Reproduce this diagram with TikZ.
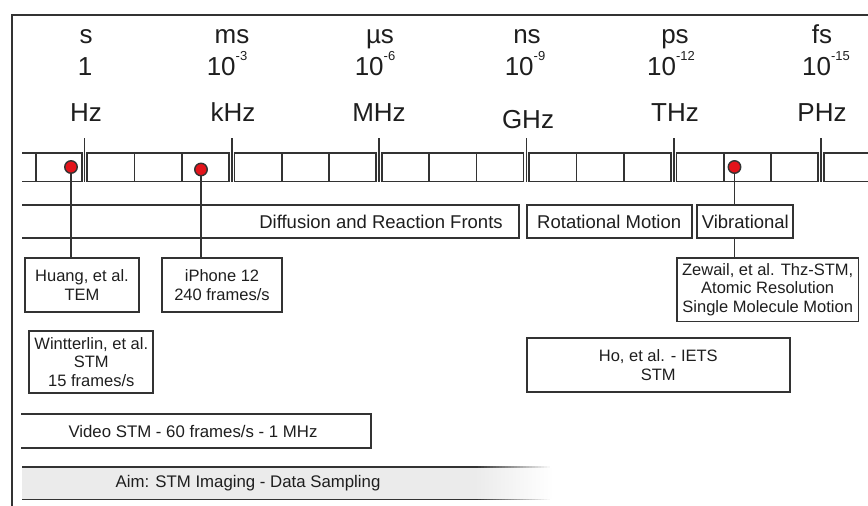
\documentclass[tikz,border=0pt]{standalone}
\usepackage{fontspec}
\setmainfont{Liberation Sans}
\usetikzlibrary{calc}
\definecolor{ln}{HTML}{333333}
\definecolor{tx}{HTML}{1E1E1E}
\definecolor{dotred}{HTML}{E3141B}
\definecolor{aimfill}{HTML}{EBEBEB}
\newcommand\pwr[1]{10\raisebox{15pt}{\fontsize{13}{13}\selectfont #1}}
\begin{document}
\begin{tikzpicture}[x=1pt,y=-1pt,
  frameline/.style={draw=ln, line width=1.9pt},
  rul/.style={draw=ln, line width=1.7pt},
  tickline/.style={draw=ln, line width=1.6pt},
  box/.style={draw=ln, line width=1.7pt, text=tx, inner sep=0pt, align=center, font=\fontsize{16.5}{18.4}\selectfont},
  bandtext/.style={text=tx, inner sep=0pt, font=\fontsize{18.5}{20}\selectfont},
  rowtext/.style={text=tx, inner sep=0pt, font=\fontsize{16.8}{18}\selectfont},
  unit/.style={text=tx, anchor=base, inner sep=0pt, font=\fontsize{26}{27}\selectfont},
  reddot/.style={circle, fill=dotred, draw=ln, line width=1.4pt, minimum size=12.5pt, inner sep=0pt},
  conn/.style={draw=ln, line width=1.6pt},
]
\useasboundingbox (0,0) rectangle (868,506);
% frame
\draw[frameline] (12,506) -- (12,15) -- (868,15);
% top labels
\node[unit] (us) at (86,43.5) {s};
\node[unit] (ums) at (232,43.5) {ms};
\node[unit] (uus) at (380,43.5) {µs};
\node[unit] (uns) at (527,43.5) {ns};
\node[unit] (ups) at (675,43.5) {ps};
\node[unit] (ufs) at (822,43.5) {fs};
\node[unit] (n0) at (85,75) {1};
\node[unit] (n3) at (227,75) {\pwr{-3}};
\node[unit] (n6) at (375,75) {\pwr{-6}};
\node[unit] (n9) at (525,75) {\pwr{-9}};
\node[unit] (n12) at (671,75) {\pwr{-12}};
\node[unit] (n15) at (826,75) {\pwr{-15}};
\node[unit] (fhz) at (86,121) {Hz};
\node[unit] (fkhz) at (233,121) {kHz};
\node[unit] (fmhz) at (379,121) {MHz};
\node[unit] (fghz) at (528,128) {GHz};
\node[unit] (fthz) at (675,121) {THz};
\node[unit] (fphz) at (822,121) {PHz};
% ruler
\foreach \t in {84.5,231.8,379.1,526.4,673.7,821} {
  \draw[tickline] (\t,138) -- (\t,182);
}
\draw[rul] (22,153) -- (81.7,153) -- (81.7,181.5) -- (22,181.5);
\draw[rul] (35.7,153) -- (35.7,181.5);
\foreach \a/\b in {87.3/229, 234.6/376.3, 381.9/523.6, 529.2/670.9, 676.5/818.2} {
  \draw[rul] (\a,153) rectangle (\b,181.5);
  \draw[rul] ({\a+(\b-\a)/3},153) -- ({\a+(\b-\a)/3},181.5);
  \draw[rul] ({\a+2*(\b-\a)/3},153) -- ({\a+2*(\b-\a)/3},181.5);
}
\draw[rul] (868,153) -- (823.8,153) -- (823.8,181.5) -- (868,181.5);
% bands
\draw[rul] (22,205) -- (519,205) -- (519,238) -- (22,238);
\node[bandtext] (diff) at (381,221.5) {Diffusion and Reaction Fronts};
\node[box, font=\fontsize{18.5}{20}\selectfont, minimum width=165pt, minimum height=33pt] (rot) at (609.2,221.5) {Rotational Motion};
\node[box, font=\fontsize{18.5}{20}\selectfont, minimum width=96pt, minimum height=33pt] (vib) at (745.3,221.5) {Vibrational};
% boxes
\node[box, minimum width=114pt, minimum height=54pt] (huang) at (82,285) {Huang, et al.\\TEM};
\node[box, minimum width=120pt, minimum height=54pt] (iphone) at (222,285) {iPhone 12\\240 frames/s};
\node[box, minimum width=124pt, minimum height=62pt] (wint) at (91.3,361.7) {Wintterlin, et al.\\STM\\15 frames/s};
\node[box, minimum width=181.5pt, minimum height=63.5pt] (zew) at (767.7,289.7) {Zewail, et al. Thz-STM,\\Atomic Resolution\\Single Molecule Motion};
\node[box, minimum width=263.3pt, minimum height=53.4pt] (ho) at (658.3,365) {Ho, et al. - IETS\\STM};
% video STM
\draw[rul] (21,414) -- (371,414) -- (371,448) -- (21,448);
\node[rowtext] (video) at (193,431.5) {Video STM - 60 frames/s - 1 MHz};
% aim bar
\fill[aimfill] (22,467) rectangle (475.5,499.5);
\shade[left color=aimfill, right color=white] (475,467) rectangle (553,499.5);
\node[rowtext] (aim) at (248,483) {Aim: STM Imaging - Data Sampling};
\foreach \i in {0,...,25} {
  \pgfmathtruncatemacro\pc{100-4*\i}
  \draw[draw=ln!\pc!white, line width=1.7pt] ({475+3*\i},467) -- ({478.2+3*\i},467);
  \draw[draw=ln!\pc!white, line width=1.7pt] ({475+3*\i},499.5) -- ({478.2+3*\i},499.5);
}
\draw[draw=ln, line width=1.7pt] (22,467) -- (476,467);
\draw[draw=ln, line width=1.7pt] (22,499.5) -- (476,499.5);
% dots and connectors
\node[reddot] (d1) at (71,167) {};
\node[reddot] (d2) at (201,169.5) {};
\node[reddot] (d3) at (734.5,167) {};
\draw[conn] (d1) -- (d1 |- huang.north);
\draw[conn] (d2) -- (d2 |- iphone.north);
\draw[conn] (d3) -- (d3 |- vib.north);
\draw[conn] (d3 |- vib.south) -- (d3 |- zew.north);
\end{tikzpicture}
\end{document}
